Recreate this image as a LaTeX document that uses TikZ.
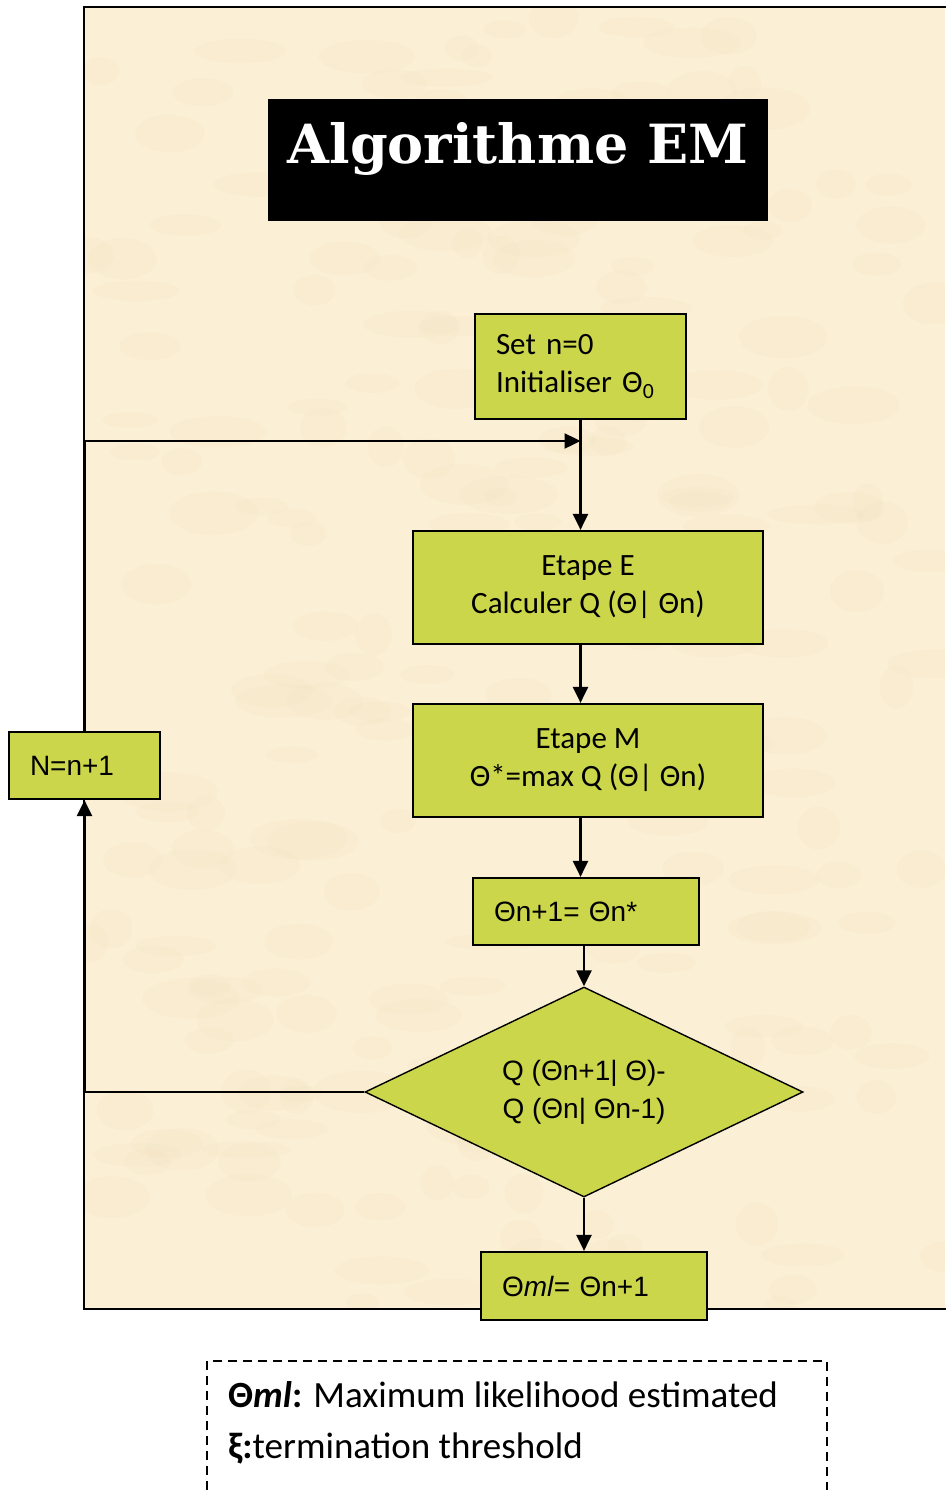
\documentclass[tikz,border=0pt]{standalone}
\usepackage{fontspec}
\setmainfont{Carlito}
\newfontfamily\arialike{Liberation Sans}
\newfontfamily\slabfont{DejaVu Serif}
\usetikzlibrary{shapes.geometric,arrows.meta}
\definecolor{parch}{HTML}{FBEFD6}
\definecolor{parchdark}{HTML}{F1DFB8}
\definecolor{lime}{HTML}{CCD64B}
\begin{document}
\begin{tikzpicture}[x=1pt,y=-1pt,
  box/.style={draw=black,line width=2.2pt,fill=lime,inner ysep=0pt,inner xsep=21pt},
  cfont/.style={font=\fontsize{31}{38}\selectfont},
  afont/.style={font=\arialike\fontsize{28}{38}\selectfont},
  arr/.style={line width=2.4pt,-{Triangle[width=15pt,length=16pt]}},
  keytext/.style={anchor=base west,inner sep=0pt,font=\fontsize{37}{44}\selectfont}]
\useasboundingbox (0,0) rectangle (945,1490);
\fill[white] (0,0) rectangle (945,1490);

% parchment panel with a faint mottled texture
\fill[parch] (84,7) rectangle (945,1309);
\begin{scope}
  \clip (84,7) rectangle (945,1309);
  \pgfmathsetseed{7}
  \foreach \i in {1,...,220} {
    \pgfmathsetmacro{\px}{84+861*rnd}
    \pgfmathsetmacro{\py}{7+1302*rnd}
    \pgfmathsetmacro{\rx}{15+35*rnd}
    \pgfmathsetmacro{\ry}{8+14*rnd}
    \fill[parchdark,opacity=0.14] (\px,\py) ellipse [x radius=\rx pt,y radius=\ry pt];
  }
\end{scope}
\draw[line width=2.4pt] (947,7) -- (84,7) -- (84,1309) -- (947,1309);

% title
\node[fill=black,minimum width=500pt,minimum height=122pt,inner sep=0pt] (titlebox) at (518,160) {};
\node[anchor=base,text=white,inner sep=0pt,font=\slabfont\bfseries\fontsize{54}{60}\selectfont] (title) at (518,164) {Algorithme EM};

% flowchart steps
\node[box,cfont,minimum width=211pt,minimum height=105pt,text width=169pt,align=left] (init) at (580.5,366.5) {Set n=0\\Initialiser Θ\textsubscript{0}};
\node[box,cfont,minimum width=350pt,minimum height=113pt,align=center] (estep) at (588,587.5) {Etape E\\Calculer Q (Θ| Θn)};
\node[box,cfont,minimum width=350pt,minimum height=113pt,align=center] (mstep) at (588,760.5) {Etape M\\Θ*=max Q (Θ| Θn)};
\node[box,afont,minimum width=226pt,minimum height=67pt,text width=184pt,align=left] (upd) at (586,911.5) {Θn+1= Θn*};
\node[draw=black,line width=1.4pt,fill=lime,diamond,aspect=2.086,minimum width=438pt,minimum height=210pt,inner sep=0pt,afont,align=center] (dec) at (584,1092) {Q (Θn+1| Θ)-\\Q (Θn| Θn-1)};
\node[box,afont,minimum width=226pt,minimum height=68pt,text width=184pt,align=left] (fin) at (594,1286) {Θ\textit{ml}= Θn+1};
\node[box,afont,minimum width=151pt,minimum height=67pt,text width=109pt,align=left] (inc) at (84.5,765.5) {N=n+1};

% connectors
\coordinate (join) at (init.south |- 0,441);
\draw[arr] (init.south) -- (init.south |- estep.north);
\draw[arr] (estep.south -| init.south) -- (mstep.north -| init.south);
\draw[arr] (mstep.south -| init.south) -- (upd.north -| init.south);
\draw[arr] (upd.south -| dec.north) -- (dec.north);
\draw[arr] (dec.south) -- (dec.south |- fin.north);
\draw[line width=1.2pt] (dec.west) -- (dec.west -| inc.south);
\draw[arr] (dec.west -| inc.south) -- (inc.south);
\draw[arr] (inc.north) |- (join);

% legend
\draw[line width=1.6pt,dash pattern=on 9pt off 6pt] (207,1490) -- (207,1361) -- (827,1361) -- (827,1490);
\node[keytext] (key1) at (228,1407) {\textbf{Θ\textit{ml}:} Maximum likelihood estimated};
\node[keytext] (key2) at (228,1458) {\textbf{ξ:}termination threshold};
\end{tikzpicture}
\end{document}
